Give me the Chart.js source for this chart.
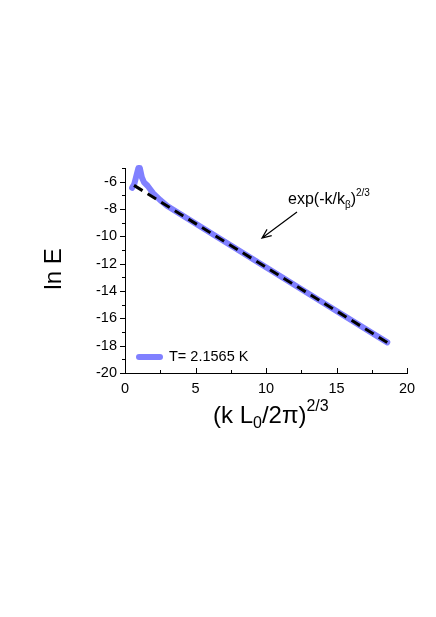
<!DOCTYPE html>
<html>
<head>
<meta charset="utf-8">
<script src="https://cdn.jsdelivr.net/npm/chart.js@4/dist/chart.umd.min.js"></script>
<style>
  html, body { margin: 0; padding: 0; background: #fff; }
  #wrap { width: 436px; height: 617px; position: relative; }
</style>
</head>
<body>
<div id="wrap"><canvas id="chart" width="436" height="617"></canvas></div>
<script>
// data
const spectrumX = [0.5, 0.65, 0.8, 0.95, 1.05, 1.2, 1.35, 1.6, 2.0, 2.5, 3.0, 5, 10, 15, 18.6];
const spectrumY = [-6.45, -6.2, -5.6, -5.0, -5.0, -5.7, -6.05, -6.3, -6.85, -7.35, -7.78, -9.06, -12.26, -15.46, -17.76];
const fitX = [0.64, 18.65];
const fitY = [-6.27, -17.8];
const xTicks = [0, 5, 10, 15, 20];
const yTicks = [-6, -8, -10, -12, -14, -16, -18, -20];
const legendLabel = 'T= 2.1565 K';

const FONT = 'Arial, "Liberation Sans", sans-serif';
const blue = 'rgb(128,128,255)';

function pts(xs, ys) { return xs.map((x, i) => ({ x: x, y: ys[i] })); }

// ticks, titles, legend and the arrow note
const extras = {
  id: 'extras',
  afterDraw(chart) {
    const ctx = chart.ctx;
    const xs = chart.scales.x, ys = chart.scales.y;
    const area = chart.chartArea;
    ctx.save();
    ctx.strokeStyle = '#000';
    ctx.lineWidth = 1;
    ctx.beginPath();
    for (let v = 0; v <= 20; v += 2.5) {
      const px = Math.round(xs.getPixelForValue(v)) + 0.5;
      const len = (v % 5 === 0) ? 5 : 3;
      ctx.moveTo(px, area.bottom);
      ctx.lineTo(px, area.bottom - len);
    }
    for (let v = -20; v <= -5; v += 1) {
      const py = Math.round(ys.getPixelForValue(v)) + 0.5;
      const len = (v % 2 === 0) ? 5 : 3;
      ctx.moveTo(area.left, py);
      ctx.lineTo(area.left - len, py);
    }
    ctx.stroke();

    // x title
    ctx.fillStyle = '#000';
    ctx.textBaseline = 'alphabetic';
    ctx.textAlign = 'left';
    let x = 213, base = 423;
    ctx.font = '24px ' + FONT;
    ctx.fillText('(k L', x, base); x += ctx.measureText('(k L').width;
    ctx.font = '16px ' + FONT;
    ctx.fillText('0', x, base + 5); x += ctx.measureText('0').width;
    ctx.font = '24px ' + FONT;
    ctx.fillText('/2\u03c0)', x, base); x += ctx.measureText('/2\u03c0)').width;
    ctx.font = '16px ' + FONT;
    ctx.fillText('2/3', x, base - 12);

    // y title
    ctx.save();
    ctx.translate(61, 269);
    ctx.rotate(-Math.PI / 2);
    ctx.textAlign = 'center';
    ctx.font = '24px ' + FONT;
    ctx.fillText('ln E', 0, 0);
    ctx.restore();

    // legend
    ctx.strokeStyle = blue;
    ctx.lineWidth = 6;
    ctx.lineCap = 'round';
    ctx.beginPath();
    ctx.moveTo(139, 357);
    ctx.lineTo(160, 357);
    ctx.stroke();
    ctx.fillStyle = '#000';
    ctx.font = '14.5px ' + FONT;
    ctx.textBaseline = 'middle';
    ctx.fillText(legendLabel, 169, 357);

    // annotation
    ctx.textBaseline = 'alphabetic';
    x = 288; base = 204;
    ctx.font = '16px ' + FONT;
    ctx.fillText('exp(-k/k', x, base); x += ctx.measureText('exp(-k/k').width;
    ctx.font = '10px ' + FONT;
    ctx.fillText('\u03b2', x, base + 4); x += ctx.measureText('\u03b2').width;
    ctx.font = '16px ' + FONT;
    ctx.fillText(')', x, base); x += ctx.measureText(')').width;
    ctx.font = '10px ' + FONT;
    ctx.fillText('2/3', x, base - 8);

    ctx.strokeStyle = '#000';
    ctx.lineWidth = 1.2;
    ctx.lineCap = 'butt';
    const x1 = 297, y1 = 212, x2 = 262, y2 = 238;
    const a = Math.atan2(y2 - y1, x2 - x1);
    ctx.beginPath();
    ctx.moveTo(x1, y1); ctx.lineTo(x2, y2);
    ctx.moveTo(x2 + 10 * Math.cos(a + Math.PI - 0.4), y2 + 10 * Math.sin(a + Math.PI - 0.4));
    ctx.lineTo(x2, y2);
    ctx.lineTo(x2 + 10 * Math.cos(a + Math.PI + 0.4), y2 + 10 * Math.sin(a + Math.PI + 0.4));
    ctx.stroke();
    ctx.restore();
  }
};

const chart = new Chart(document.getElementById('chart'), {
  type: 'scatter',
  data: {
    datasets: [
      {
        label: 'fit',
        data: pts(fitX, fitY),
        showLine: true,
        borderColor: '#000',
        borderWidth: 3,
        borderDash: [10, 6],
        pointRadius: 0,
        order: 0
      },
      {
        label: legendLabel,
        data: pts(spectrumX, spectrumY),
        showLine: true,
        borderColor: blue,
        borderWidth: 6,
        borderCapStyle: 'round',
        borderJoinStyle: 'round',
        pointRadius: 0,
        tension: 0,
        clip: false,
        order: 1
      }
    ]
  },
  options: {
    responsive: false,
    animation: false,
    layout: { padding: { left: 0, top: 168, right: 29, bottom: 0 } },
    plugins: { legend: { display: false }, tooltip: { enabled: false } },
    scales: {
      x: {
        type: 'linear',
        min: 0, max: 20,
        afterBuildTicks: (s) => { s.ticks = xTicks.map(v => ({ value: v })); },
        afterFit: (s) => { s.height = 244; },
        grid: { display: false, drawTicks: false },
        border: { display: true, color: '#000', width: 1 },
        ticks: { color: '#000', padding: 7, font: { family: FONT, size: 14.5 } }
      },
      y: {
        type: 'linear',
        min: -20, max: -5,
        afterBuildTicks: (s) => { s.ticks = yTicks.map(v => ({ value: v })); },
        afterFit: (s) => { s.width = 125; },
        grid: { display: false, drawTicks: false },
        border: { display: true, color: '#000', width: 1 },
        ticks: { color: '#000', padding: 8, font: { family: FONT, size: 14.5 } }
      }
    }
  },
  plugins: [extras]
});
</script>
</body>
</html>
